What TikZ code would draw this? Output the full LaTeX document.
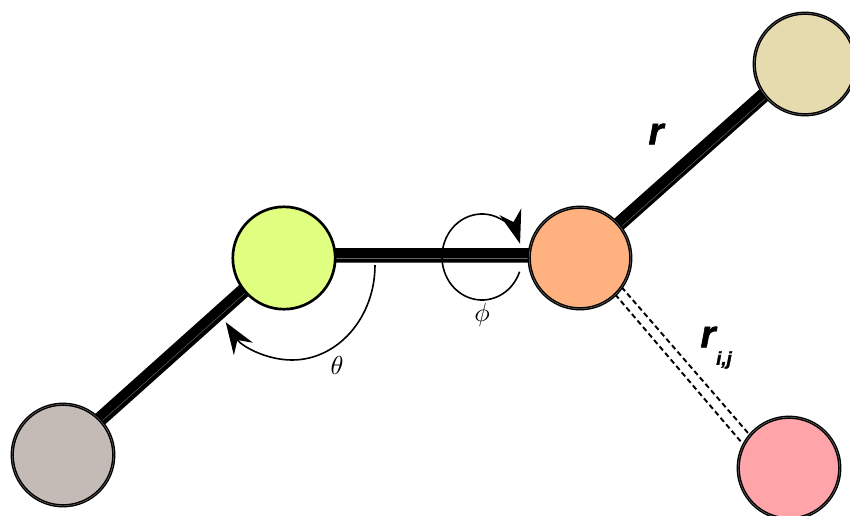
\documentclass[tikz,border=0pt]{standalone}
\usepackage{fontspec}
\newfontfamily\labelfont[BoldItalicFeatures={FakeBold=1.5}]{Liberation Sans}
\usetikzlibrary{arrows.meta,backgrounds}
\definecolor{cGreen}{HTML}{E0FF80}
\definecolor{cOrange}{HTML}{FFB27F}
\definecolor{cTan}{HTML}{E6DBAE}
\definecolor{cGray}{HTML}{C5BBB6}
\definecolor{cPink}{HTML}{FFA5AA}
\tikzset{
  atom/.style={circle,draw=black,inner sep=0pt,outer sep=0pt,minimum size=76.2pt,line width=1.05pt,double=black!55,double distance=.35pt},
  plainatom/.style={circle,draw=black,inner sep=0pt,outer sep=0pt,minimum size=76.8pt,line width=2pt},
  bond/.style={draw=black,line width=10.8pt,shorten <=-2pt,shorten >=-2pt},
  streak/.style={draw=black!60,line width=.35pt},
  dashbond/.style={draw=black,line width=1.45pt,dash pattern=on 3.9pt off 2.5pt},
  anglearc/.style={draw=black,line width=1.2pt,-{Stealth[length=25pt,width=17pt,inset=8pt]}},
  anglearcb/.style={draw=black,line width=1.2pt,-{Stealth[length=24pt,width=17pt,inset=8pt]}},
  bigr/.style={font=\labelfont\bfseries\itshape\fontsize{29}{30}\selectfont,inner sep=0pt},
  subr/.style={font=\labelfont\bfseries\itshape\fontsize{14}{15}\selectfont,inner sep=0pt},
  sym/.style={scale=1.95,inner sep=0pt},
}
\begin{document}
\begin{tikzpicture}[x=.75pt,y=-.75pt]
\useasboundingbox (0,0) rectangle (850,515);
\clip (0,0) rectangle (850,515);
\node[atom,fill=cGray] (gray) at (63,455) {};
\node[plainatom,fill=cGreen] (green) at (284,258) {};
\node[atom,fill=cOrange] (orange) at (580,258) {};
\node[atom,fill=cTan] (tan) at (805,64) {};
\node[atom,fill=cPink] (pink) at (789,468) {};
\begin{scope}[on background layer]
  \draw[bond] (gray.44) -- (green.219);
  \draw[bond] (green.3) -- (orange.177);
  \draw[bond] (orange.41) -- (tan.217.5);
  \draw[streak] (green.0) -- (orange.180);
  \draw[streak] (orange.37) -- (tan.221);
  \draw[streak] (gray.41) -- (green.222);
  \draw[dashbond] (orange.-46) -- (pink.153);
  \draw[dashbond] (orange.-35) -- (pink.140);
\end{scope}
\draw[anglearc] (482,257) ++(20:40 and 43) arc[start angle=20,end angle=342,x radius=40,y radius=43];
\draw[anglearcb] (375,265) arc[start angle=0,end angle=143,x radius=83,y radius=95];
\node[bigr] (r1) at (656,134) {r};
\node[bigr] (r2) at (708,337) {r};
\node[subr] (r2sub) at (724,360) {i,j};
\node[sym] (theta) at (337,365) {$\theta$};
\node[sym] (phi) at (482,315) {$\phi$};
\end{tikzpicture}
\end{document}
